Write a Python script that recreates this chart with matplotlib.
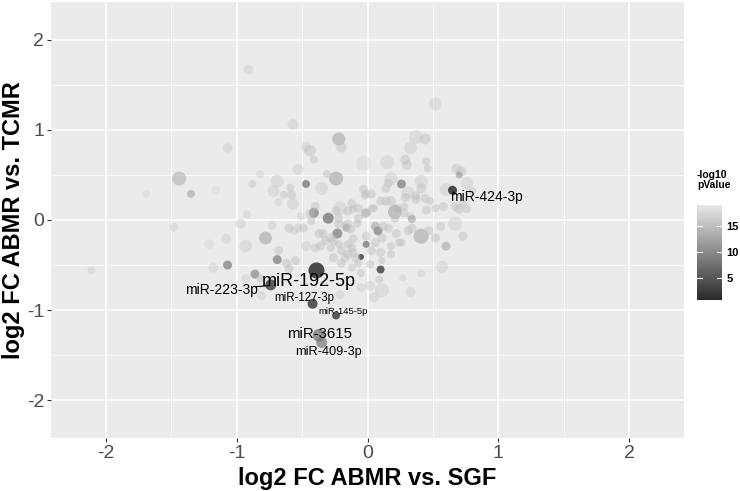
import numpy as np
import matplotlib
matplotlib.use("Agg")
import matplotlib.pyplot as plt
from matplotlib.colors import LinearSegmentedColormap, Normalize
from matplotlib.cm import ScalarMappable

plt.rcParams['font.family'] = ['Liberation Sans', 'DejaVu Sans']

# log2 fold changes, -log10 p values and bubble sizes
fc_sgf = [-2.11, -0.91, -0.57, -1.07, -1.44, -1.69, -1.35, -1.16, -1.48, -0.97,
          -1.21, -1.08, -1.18, -1.07, -0.93, -0.82, -0.88, -0.69, -0.72, -0.64,
          -0.59, -0.58, -0.68, -0.57, -0.92, -0.73, -0.78, -0.93, -0.56, -0.53,
          -0.47, -0.44, -0.41, -0.22, -0.20, -0.47, -0.35, -0.24, -0.31, -0.41,
          -0.30, -0.40, -0.43, -0.51, -0.21, -0.12, -0.22, -0.15, -0.23, -0.32,
          -0.47, -0.36, -0.12, -0.03, -0.03, -0.01, -0.11, -0.07, -0.01, -0.17,
          -0.53, 0.52, 0.37, 0.44, 0.33, 0.15, 0.29, 0.30, 0.45, 0.46,
          0.68, 0.72, 0.70, 0.76, 0.60, 0.80, 0.18, 0.16, 0.26, 0.41,
          0.41, 0.31, 0.29, 0.37, 0.44, 0.48, 0.52, 0.03, 0.10, 0.05,
          0.18, 0.23, 0.28, 0.21, 0.33, 0.34, 0.45, 0.58, 0.67, 0.70,
          0.76, 0.73, 0.67, 0.73, 0.60, 0.57, 0.41, 0.27, 0.41, 0.47,
          0.52, 0.34, 0.28, 0.21, 0.14, 0.21, 0.16, 0.22, 0.24, 0.18,
          0.08, 0.06, 0.11, -0.01, 0.03, 0.10, 0.11, 0.10, -0.05, -0.07,
          -0.15, -0.12, -0.20, -0.26, 0.02, -0.05, -0.22, -0.16, -0.08, -0.02,
          0.03, -0.07, -0.15, -0.24, -0.28, -0.22, -0.15, -0.20, -0.28, 0.14,
          0.37, -0.02, 0.09, 0.02, 0.11, 0.05, 0.33, -0.05, 0.56, 0.31,
          0.26, 0.18, 0.06, -0.01, 0.12, -0.21, -0.68, -0.62, -0.55, -0.40,
          -0.37, -0.49, -0.60, -0.26, -0.11, -0.69, -0.86, -0.82, -0.81, -0.60,
          -0.44, -0.34, -0.13, -0.11, -0.17, -0.09,
          -0.39, -0.74, -0.42, -0.24, -0.37, -0.35, 0.65]
fc_tcmr = [-0.56, 1.67, 1.06, 0.80, 0.46, 0.29, 0.29, 0.33, -0.08, -0.04,
           -0.27, -0.21, -0.53, -0.50, -0.65, 0.51, 0.40, 0.43, 0.32, 0.28,
           0.36, 0.28, 0.20, 0.18, 0.06, -0.06, -0.20, -0.29, -0.12, 0.56,
           0.81, 0.77, 0.67, 0.90, 0.81, 0.40, 0.35, 0.46, 0.51, 0.08,
           0.02, 0.15, -0.01, 0.04, 0.13, 0.18, 0.02, -0.04, -0.15, -0.23,
           -0.29, -0.29, -0.31, 0.63, 0.34, 0.29, 0.12, 0.02, 0.08, -0.07,
           -0.09, 1.29, 0.92, 0.90, 0.80, 0.64, 0.67, 0.61, 0.65, 0.57,
           0.57, 0.54, 0.50, 0.41, 0.34, 0.32, 0.46, 0.41, 0.40, 0.43,
           0.35, 0.30, 0.25, 0.23, 0.24, 0.21, 0.13, 0.29, 0.21, 0.13,
           0.21, 0.13, 0.15, 0.09, 0.04, 0.01, 0.11, 0.15, 0.15, 0.12,
           0.12, 0.18, -0.04, -0.18, -0.29, -0.52, -0.59, -0.64, -0.18, -0.12,
           -0.20, -0.09, 0.08, 0.12, 0.21, 0.02, -0.09, -0.15, -0.25, -0.29,
           -0.12, -0.07, -0.20, -0.27, -0.34, -0.36, -0.45, -0.55, -0.41, -0.48,
           -0.38, -0.53, -0.48, -0.42, -0.49, -0.59, -0.04, -0.09, -0.04, 0.07,
           0.13, 0.13, 0.10, 0.10, -0.20, -0.27, -0.27, -0.34, -0.31, 0.35,
           0.27, 0.27, -0.66, -0.73, -0.78, -0.86, -0.80, -0.75, -0.07, -0.12,
           -0.25, -0.38, -0.25, -0.18, -0.07, -0.83, -0.34, -0.48, -0.45, -0.31,
           -0.15, -0.09, -0.09, -0.23, -0.36, -0.44, -0.60, -0.65, -0.84, -0.54,
           0.07, -0.15, -0.10, -0.21, -0.42, -0.42,
           -0.56, -0.72, -0.93, -1.06, -1.28, -1.36, 0.33]
neglog_p = [16, 16, 16, 16, 13, 17, 12, 17, 16, 16,
            17, 16, 16, 8, 16, 16, 15, 16, 16, 15,
            15, 15, 16, 16, 16, 16, 12, 16, 16, 16,
            16, 15, 15, 12, 15, 7, 16, 12, 15, 8,
            7, 15, 15, 16, 16, 15, 15, 15, 8, 15,
            16, 15, 15, 17, 15, 15, 15, 15, 12, 15,
            16, 16, 16, 15, 16, 16, 15, 15, 15, 15,
            15, 15, 11, 16, 16, 15, 16, 15, 8, 16,
            15, 16, 15, 15, 15, 15, 15, 15, 15, 15,
            15, 15, 15, 12, 15, 12, 15, 15, 15, 15,
            15, 15, 16, 15, 12, 16, 16, 16, 12, 15,
            15, 15, 15, 15, 15, 15, 15, 15, 15, 15,
            8, 12, 15, 7, 15, 15, 15, 3, 3, 15,
            15, 15, 15, 15, 15, 15, 15, 12, 15, 15,
            15, 15, 15, 15, 15, 15, 15, 15, 15, 15,
            15, 15, 15, 16, 16, 16, 16, 16, 15, 15,
            15, 15, 15, 15, 15, 16, 15, 15, 15, 15,
            15, 15, 15, 15, 15, 8, 9, 15, 16, 15,
            15, 15, 15, 15, 15, 15,
            1.5, 3, 2.5, 2.5, 7, 8, 1.5]
bubble = [8, 10, 11, 10, 14, 8, 8, 9, 9, 10,
          10, 10, 10, 9, 9, 8, 8, 13, 12, 8,
          8, 9, 8, 12, 8, 9, 13, 13, 8, 11,
          10, 12, 8, 13, 11, 8, 13, 14, 8, 10,
          11, 9, 8, 8, 14, 9, 9, 9, 10, 9,
          10, 9, 9, 15, 9, 8, 8, 9, 9, 8,
          9, 13, 14, 11, 13, 14, 10, 10, 8, 8,
          10, 10, 7, 12, 13, 8, 13, 9, 9, 13,
          10, 13, 9, 9, 9, 8, 8, 9, 9, 8,
          10, 9, 8, 14, 8, 8, 9, 9, 9, 9,
          8, 8, 14, 9, 9, 12, 8, 7, 15, 9,
          9, 9, 9, 8, 9, 9, 9, 9, 8, 8,
          9, 9, 9, 7, 9, 9, 7, 8, 6, 8,
          9, 8, 9, 9, 8, 8, 9, 8, 8, 9,
          8, 9, 9, 9, 9, 8, 9, 9, 8, 9,
          9, 8, 8, 10, 14, 10, 10, 9, 9, 9,
          8, 8, 9, 9, 9, 9, 9, 9, 9, 9,
          9, 9, 9, 9, 9, 9, 9, 8, 9, 9,
          9, 9, 9, 9, 9, 9,
          16, 11, 10, 8, 13, 11, 9]

# labelled miRNAs: name, text position, font size
lab_names = ['miR-192-5p', 'miR-223-3p', 'miR-127-3p', 'miR-145-5p',
             'miR-3615', 'miR-409-3p', 'miR-424-3p']
lab_x = [-0.45, -1.12, -0.48, -0.19, -0.37, -0.30, 0.91]
lab_y = [-0.68, -0.78, -0.87, -1.02, -1.27, -1.46, 0.26]
lab_size = [13, 10, 8.3, 6.8, 10.8, 9.2, 10]

fc_sgf = np.array(fc_sgf)
fc_tcmr = np.array(fc_tcmr)
neglog_p = np.array(neglog_p, dtype=float)
bubble = np.array(bubble, dtype=float)

cmap = LinearSegmentedColormap.from_list('greys', ['#2a2a2a', '#e8e8e8'])
norm = Normalize(vmin=0.7, vmax=19)

fig = plt.figure(figsize=(7.40, 4.91), dpi=100)
ax = fig.add_axes([51/740, 53/491, 633/740, 436/491])
ax.set_facecolor('#EBEBEB')

cols = cmap(norm(neglog_p))
cols[:, 3] = 0.92 - 0.03 * neglog_p
ax.scatter(fc_sgf, fc_tcmr, s=(bubble * 0.72) ** 2, c=cols, linewidths=0, zorder=3)

for name, tx, ty, fs in zip(lab_names, lab_x, lab_y, lab_size):
    ax.text(tx, ty, name, fontsize=fs, ha='center', va='center', color='black', zorder=4)
ax.plot([-0.85, -0.76], [-0.74, -0.73], color='black', lw=0.8, zorder=4)
ax.plot([0.655, 0.67], [0.31, 0.29], color='black', lw=0.8, zorder=4)

ax.set_xlim(-2.42, 2.42)
ax.set_ylim(-2.42, 2.42)
ticks = [-2, -1, 0, 1, 2]
ax.set_xticks(ticks)
ax.set_yticks(ticks)
ax.set_xticklabels(['-2', '-1', '0', '1', '2'])
ax.set_yticklabels(['-2', '-1', '0', '1', '2'])
ax.set_xticks([-1.5, -0.5, 0.5, 1.5], minor=True)
ax.set_yticks([-1.5, -0.5, 0.5, 1.5], minor=True)
ax.grid(which='major', color='white', lw=1.1, zorder=1)
ax.grid(which='minor', color='white', lw=0.55, zorder=1)
ax.set_axisbelow(True)
ax.tick_params(which='major', length=3, width=0.8, color='#333333',
               labelsize=14, labelcolor='#4D4D4D', pad=2)
ax.tick_params(which='minor', length=0)
for sp in ax.spines.values():
    sp.set_visible(False)

ax.set_xlabel('log2 FC ABMR vs. SGF', fontsize=17, fontweight='bold', labelpad=4)
ax.set_ylabel('log2 FC ABMR vs. TCMR', fontsize=17, fontweight='bold')
ax.yaxis.set_label_coords(-26/633, 0.5)

# colour bar legend
cax = fig.add_axes([697/740, (491-300)/491, 25/740, 95/491])
sm = ScalarMappable(norm=norm, cmap=cmap)
cb = fig.colorbar(sm, cax=cax, ticks=[5, 10, 15])
cb.outline.set_visible(False)
cb.ax.tick_params(length=0, labelsize=8, pad=3)
for lbl in cb.ax.get_yticklabels():
    lbl.set_fontweight('bold')
for v in [5, 10, 15]:
    cax.plot([0, 0.2], [v, v], color='white', lw=0.8, transform=cax.get_yaxis_transform())
    cax.plot([0.8, 1], [v, v], color='white', lw=0.8, transform=cax.get_yaxis_transform())
fig.text(697/740, 1 - 180/491, '-log10\npValue', fontsize=7.5, fontweight='bold',
         ha='left', va='center', linespacing=1.0)

fig.savefig('out.png', dpi=100)
